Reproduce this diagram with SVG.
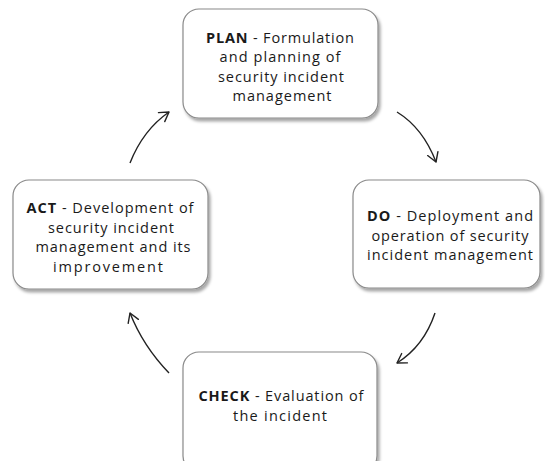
<svg xmlns="http://www.w3.org/2000/svg" width="545" height="461" viewBox="0 0 545 461">
<defs>
<filter id="sh" x="-10%" y="-10%" width="130%" height="130%">
<feDropShadow dx="2" dy="3" stdDeviation="1.6" flood-color="#000" flood-opacity="0.35"/>
</filter>
<marker id="ah" markerUnits="userSpaceOnUse" markerWidth="14" markerHeight="14" refX="10" refY="6" orient="auto" viewBox="0 0 14 12">
<path d="M1,0.5 L10,6 L1,11.5" fill="none" stroke="#222" stroke-width="1.4" stroke-linecap="round" stroke-linejoin="round"/>
</marker>
<style>
.box{fill:#fff;stroke:#8a8a8a;stroke-width:1.2;filter:url(#sh)}
.t{font-family:"Open Sans","Liberation Sans",Arial,sans-serif;font-size:14.5px;fill:#1a1a1a;text-anchor:middle}
.b{font-weight:bold}
.c{fill:none;stroke:#222;stroke-width:1.4;marker-end:url(#ah)}
</style>
</defs>
<rect width="545" height="461" fill="#fff"/>
<g id="plan">
<rect class="box" x="183" y="9" width="195" height="109" rx="16"/>
<text class="t"><tspan x="280" y="43" textLength="148" lengthAdjust="spacing"><tspan class="b">PLAN</tspan> - Formulation</tspan><tspan x="280" y="62" textLength="121" lengthAdjust="spacing">and planning of</tspan><tspan x="281" y="82" textLength="126" lengthAdjust="spacing">security incident</tspan><tspan x="282" y="101" textLength="99" lengthAdjust="spacing">management</tspan></text>
</g>
<g id="do">
<rect class="box" x="353" y="180" width="187" height="108" rx="16"/>
<text class="t"><tspan x="450" y="221" textLength="166" lengthAdjust="spacing"><tspan class="b">DO</tspan> - Deployment and</tspan><tspan x="450" y="241" textLength="157" lengthAdjust="spacing">operation of security</tspan><tspan x="450" y="260" textLength="166" lengthAdjust="spacing">incident management</tspan></text>
</g>
<g id="act">
<rect class="box" x="13" y="180" width="195" height="109" rx="16"/>
<text class="t"><tspan x="110" y="213" textLength="167" lengthAdjust="spacing"><tspan class="b">ACT</tspan> - Development of</tspan><tspan x="111" y="233" textLength="126" lengthAdjust="spacing">security incident</tspan><tspan x="113" y="252" textLength="155" lengthAdjust="spacing">management and its</tspan><tspan x="108" y="272" textLength="110" lengthAdjust="spacing">improvement</tspan></text>
</g>
<g id="check">
<rect class="box" x="183" y="352" width="194" height="120" rx="16"/>
<text class="t"><tspan x="281" y="401" textLength="165" lengthAdjust="spacing"><tspan class="b">CHECK</tspan> - Evaluation of</tspan><tspan x="280" y="421" textLength="94" lengthAdjust="spacing">the incident</tspan></text>
</g>
<g id="connectors">
<path class="c" d="M130,163 Q143,130 169,112"/>
<path class="c" d="M397,112 Q423,128 436,162"/>
<path class="c" d="M435,313 Q424,346 397,363"/>
<path class="c" d="M169,373 Q143,346 130,313"/>
</g>
</svg>
